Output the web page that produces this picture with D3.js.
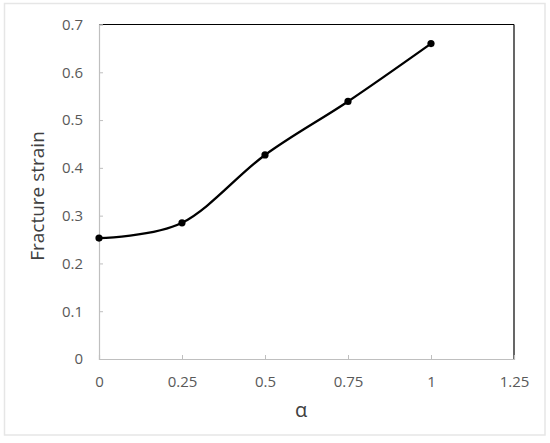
<!DOCTYPE html>
<html><head><meta charset="utf-8">
<script src="https://cdn.jsdelivr.net/npm/d3@7"></script>
<style>body{margin:0;background:#fff}svg{display:block}</style>
</head><body>
<svg id="c" width="550" height="443"></svg>
<script>
const alphaVals = [0, 0.25, 0.5, 0.75, 1];
const strainVals = [0.253, 0.285, 0.427, 0.539, 0.660];
const xTicks = [0, 0.25, 0.5, 0.75, 1, 1.25];
const yTicks = [0, 0.1, 0.2, 0.3, 0.4, 0.5, 0.6, 0.7];

const svg = d3.select("#c");
const L = 99, R = 514, T = 24.5, B = 359;
const x = d3.scaleLinear().domain([0, 1.25]).range([L, R]);
const y = d3.scaleLinear().domain([0, 0.7]).range([B, T]);
const font = "'Open Sans', 'Liberation Sans', sans-serif";

// faint outer chart border
svg.append("rect").attr("x", 4.5).attr("y", 3.5).attr("width", 540.5).attr("height", 431.5)
  .attr("fill", "none").attr("stroke", "#e6e6e6").attr("stroke-width", 1.5);

// frame: top and right black
svg.append("line").attr("x1", L).attr("x2", R).attr("y1", T).attr("y2", T).attr("stroke", "#000").attr("stroke-width", 1.2);
svg.append("line").attr("x1", R).attr("x2", R).attr("y1", T).attr("y2", B).attr("stroke", "#000").attr("stroke-width", 1.2);

const xAxis = svg.append("g").attr("transform", `translate(0,${B})`)
  .call(d3.axisBottom(x).tickValues(xTicks).tickSize(-4).tickPadding(17).tickFormat(d => d3.format("")(d)));
const yAxis = svg.append("g").attr("transform", `translate(${L},0)`)
  .call(d3.axisLeft(y).tickValues(yTicks).tickSize(-4).tickPadding(16).tickFormat(d => d3.format("")(d)));
[xAxis, yAxis].forEach(g => {
  g.select(".domain").attr("stroke", "#bfbfbf").attr("stroke-width", 1.2);
  g.selectAll(".tick line").attr("stroke", "#bfbfbf");
  g.selectAll("text").attr("fill", "#595959").attr("font-size", 15).attr("font-family", font);
});
xAxis.select(".tick:last-of-type line").remove();

const pts = alphaVals.map((a, i) => [a, strainVals[i]]);
const line = d3.line().x(d => x(d[0])).y(d => y(d[1])).curve(d3.curveCardinal.tension(0));
svg.append("path").datum(pts).attr("d", line).attr("fill", "none").attr("stroke", "#000").attr("stroke-width", 2.3);
svg.selectAll("circle.pt").data(pts).enter().append("circle")
  .attr("cx", d => x(d[0])).attr("cy", d => y(d[1])).attr("r", 3.6).attr("fill", "#000");

svg.append("text").attr("x", 301).attr("y", 417).attr("text-anchor", "middle")
  .attr("font-family", font).attr("font-size", 20).attr("fill", "#404040").text("α");
svg.append("text").attr("transform", `translate(44,196) rotate(-90)`).attr("text-anchor", "middle")
  .attr("font-family", font).attr("font-size", 19).attr("fill", "#404040").text("Fracture strain");
</script>
</body></html>
